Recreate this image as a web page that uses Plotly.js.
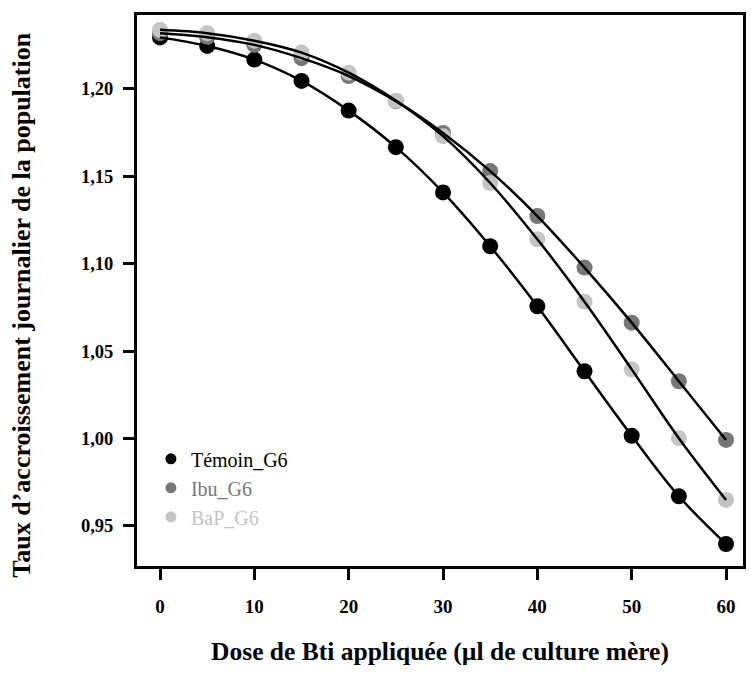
<!DOCTYPE html>
<html><head><meta charset="utf-8">
<script src="https://cdn.plot.ly/plotly-3.0.1.min.js"></script>
<style>body{margin:0;background:#fff}#c{width:751px;height:677px}</style>
</head><body><div id="c"></div>
<script>
const doses = [0,5,10,15,20,25,30,35,40,45,50,55,60];
const temoin = [1.2295,1.2246,1.2168,1.2046,1.1876,1.1667,1.1408,1.1100,1.0757,1.0385,1.0016,0.9670,0.9397];
const ibu    = [1.2319,1.2296,1.2252,1.2176,1.2074,1.1930,1.1748,1.1530,1.1273,1.0978,1.0663,1.0328,0.9992];
const bap    = [1.2338,1.2319,1.2276,1.2208,1.2093,1.1933,1.1730,1.1462,1.1140,1.0783,1.0396,1.0002,0.9649];
const names  = ['Témoin_G6','Ibu_G6','BaP_G6'];
const colors = ['#000000','#777777','#c4c4c4'];
const series = [temoin, ibu, bap];
const yTicks = [0.95,1.00,1.05,1.10,1.15,1.20];
const xTicks = [0,10,20,30,40,50,60];
const xTitle = 'Dose de Bti appliquée (µl de culture mère)';
const yTitle = 'Taux d’accroissement journalier de la population';

const traces = [];
series.forEach((s,i)=>{
  traces.push({x:doses,y:s,type:'scatter',mode:'markers',showlegend:false,
    marker:{color:colors[i],size:16,line:{width:0}},hoverinfo:'skip'});
});
series.forEach((s,i)=>{
  traces.push({x:doses,y:s,type:'scatter',mode:'lines',showlegend:false,
    line:{color:'#000',width:2.5,shape:'spline',smoothing:1}});
});
names.forEach((n,i)=>{
  traces.push({x:[null],y:[null],type:'scatter',mode:'markers',
    name:'<span style="color:'+colors[i]+'">'+n+'</span>',
    marker:{color:colors[i],size:11}});
});

const font = 'Liberation Serif, Times New Roman, serif';
const layout = {
  width:751,height:677,
  margin:{l:137,r:8,t:15,b:111},
  paper_bgcolor:'#fff',plot_bgcolor:'#fff',
  separators:',.',
  font:{family:font,color:'#000'},
  xaxis:{range:[-2.44,61.8],tickvals:xTicks,ticktext:xTicks.map(String),
    showgrid:false,zeroline:false,showline:true,mirror:true,linewidth:3,linecolor:'#000',
    ticks:'outside',ticklen:11,tickwidth:3,tickcolor:'#000',ticklabelstandoff:10,
    tickfont:{family:font,size:19,weight:'bold'},
    title:{text:'<b>'+xTitle+'</b>',font:{family:font,size:25.5},standoff:27}},
  yaxis:{range:[0.9271,1.2423],tickvals:yTicks,ticktext:yTicks.map(v=>v.toFixed(2).replace('.',',')),
    showgrid:false,zeroline:false,showline:true,mirror:true,linewidth:3,linecolor:'#000',
    ticks:'outside',ticklen:11,tickwidth:3,tickcolor:'#000',ticklabelstandoff:6,
    tickfont:{family:font,size:18.5,weight:'bold'}},
  annotations:[{text:'<b>'+yTitle+'</b>',xref:'paper',yref:'paper',x:-0.19,y:0.474,
    xanchor:'center',yanchor:'middle',textangle:-90,showarrow:false,
    font:{family:font,size:26,color:'#000'}}],
  legend:{x:0.023,y:0.23,xanchor:'left',yanchor:'top',bgcolor:'rgba(0,0,0,0)',
    font:{family:font,size:20},itemwidth:30,tracegroupgap:0},
  showlegend:true
};
Plotly.newPlot('c',traces,layout,{displayModeBar:false,staticPlot:true});
</script></body></html>
